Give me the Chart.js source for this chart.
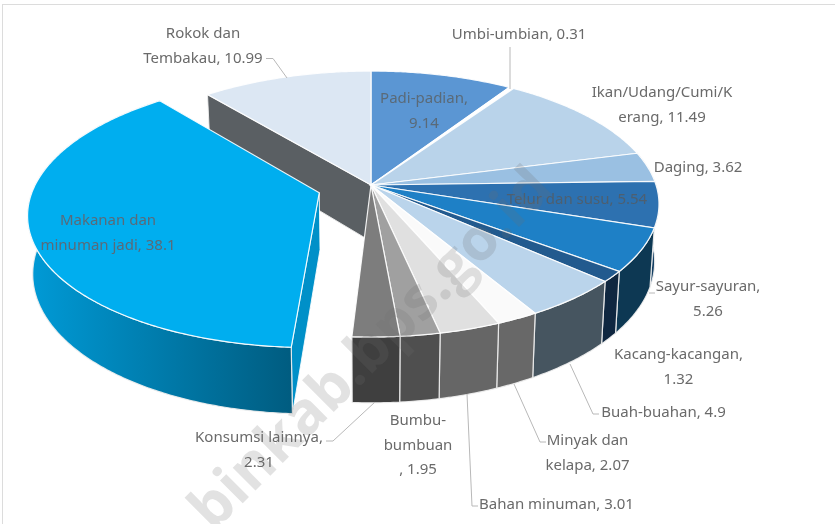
<!DOCTYPE html>
<html><head><meta charset="utf-8">
<style>html,body{margin:0;padding:0;background:#fff}canvas{display:block}</style>
<script src="https://cdn.jsdelivr.net/npm/chart.js@4"></script>
</head><body><canvas id="c" width="835" height="524"></canvas>
<script>
const categories = ["Padi-padian","Umbi-umbian","Ikan/Udang/Cumi/Kerang","Daging","Telur dan susu","Sayur-sayuran","Kacang-kacangan","Buah-buahan","Minyak dan kelapa","Bahan minuman","Bumbu-bumbuan","Konsumsi lainnya","Makanan dan minuman jadi","Rokok dan Tembakau"];
const values = [9.14,0.31,11.49,3.62,5.54,5.26,1.32,4.9,2.07,3.01,1.95,2.31,38.1,10.99];
const topColors = ["#5b96d3","#ffffff","#b9d3ea","#9ac0e2","#2d71b0","#1e80c6","#225a8e","#bad4eb","#fafafa","#e0e0e0","#a0a0a0","#7d7d7d","#00aeef","#dce7f3"];
const wallColors = ["#3a5f86","#888888","#5d7285","#4e6a85","#143f63","#0d3853","#0f2740","#465560","#686868","#666666","#4f4f4f","#3f3f3f","#0090c8","#5a5f63"];
const explode = [0,0,0,0,0,0,0,0,0,0,0,0,54,0];
const labelLines = [["Padi-padian,","9.14"],["Umbi-umbian, 0.31"],["Ikan/Udang/Cumi/K","erang, 11.49"],["Daging, 3.62"],["Telur dan susu, 5.54"],["Sayur-sayuran,","5.26"],["Kacang-kacangan,","1.32"],["Buah-buahan, 4.9"],["Minyak dan","kelapa, 2.07"],["Bahan minuman, 3.01"],["Bumbu-","bumbuan",", 1.95"],["Konsumsi lainnya,","2.31"],["Makanan dan","minuman jadi, 38.1"],["Rokok dan","Tembakau, 10.99"]];
const labelSpots = [[424,99],[519,35],[662,93],[698,168],[577,200],[708,287],[678.5,355],[663.5,413],[587.5,441],[556.5,505],[418,421],[259,438],[108,221],[203,34]];
const leaders = [[[266,58.5],[273,58.5],[287,78]],[[510,47],[510,89]],[[655,293],[649,293]],[[599,414],[593,414],[570,364]],[[546,442],[540,442],[514,384]],[[478,506],[472,506],[467,394]],[[326,441],[333,441],[375,402]]];
const watermark = "binkab.bps.go.id";

const K = 0.143, YK = 0.457, HK = 0.198, XS = 0.985;

function project(el, u, v){
  const R = el.outerRadius, w = 1 + K*v;
  return {x: el.x + R*u/w, y: el.y - R*YK*v/w, w};
}
function lower(el, p){
  return {x: el.x + (p.x-el.x)*XS, y: p.y + el.outerRadius*HK/p.w};
}
function sliceGeom(el){
  const R = el.outerRadius, a0 = el.startAngle + Math.PI/2, a1 = el.endAngle + Math.PI/2;
  const d = (el.options.offset||0)/R, mid = (a0+a1)/2;
  const ou = d*Math.sin(mid), ov = d*Math.cos(mid);
  const n = Math.max(2, Math.ceil((a1-a0)/0.01)), rim = [];
  for(let i=0;i<=n;i++){
    const a = a0+(a1-a0)*i/n;
    rim.push(project(el, ou+Math.sin(a), ov+Math.cos(a)));
  }
  return {apex: project(el, ou, ov), rim, a0, a1};
}
function poly(ctx, pts){
  ctx.beginPath();
  pts.forEach((p,i)=> i?ctx.lineTo(p.x,p.y):ctx.moveTo(p.x,p.y));
  ctx.closePath();
}
function drawWall(ctx, el, i){
  const g = sliceGeom(el), low = g.rim.map(p=>lower(el,p));
  if(!explode[i] && Math.cos(g.a0)>0.05 && Math.cos(g.a1)>0.05) return;
  if(explode[i]){
    const side = [g.apex, g.rim[0], low[0], lower(el,g.apex)];
    poly(ctx, side); ctx.fillStyle = wallColors[i]; ctx.fill();
    ctx.strokeStyle = "rgba(255,255,255,.85)"; ctx.lineWidth = 1; ctx.stroke();
    const gr = ctx.createLinearGradient(30,0,292,0);
    gr.addColorStop(0,"#009ad6"); gr.addColorStop(1,"#005c80");
    ctx.fillStyle = gr;
  } else ctx.fillStyle = wallColors[i];
  poly(ctx, g.rim.concat(low.slice().reverse())); ctx.fill();
  ctx.strokeStyle = "rgba(240,240,240,.9)"; ctx.lineWidth = 1.2; ctx.stroke();
}
function drawTop(ctx, el, i){
  const g = sliceGeom(el);
  poly(ctx, [g.apex].concat(g.rim));
  ctx.fillStyle = el.options.backgroundColor; ctx.fill();
  ctx.strokeStyle = "rgba(255,255,255,.9)"; ctx.lineWidth = 1.2; ctx.stroke();
}
const pie3d = {
  id:"pie3d",
  beforeDatasetDraw(chart){
    const ctx = chart.ctx, els = chart.getDatasetMeta(0).data;
    const last = els.length-1;
    const rok = els[last], gr = sliceGeom(rok), a = gr.apex, r0 = gr.rim[0];
    poly(ctx,[a,r0,lower(rok,r0),lower(rok,a)]);
    ctx.fillStyle = wallColors[last]; ctx.fill();
    ctx.strokeStyle = "rgba(240,240,240,.9)"; ctx.lineWidth = 1; ctx.stroke();
    els.forEach((el,i)=>{ if(!explode[i]) drawWall(ctx,el,i); });
    els.forEach((el,i)=>{ if(!explode[i]) drawTop(ctx,el,i); });
    els.forEach((el,i)=>{ if(explode[i]){ drawWall(ctx,el,i); drawTop(ctx,el,i);} });
    return false;
  },
  afterDraw(chart){
    const ctx = chart.ctx;
    ctx.save();
    ctx.strokeStyle = "#dcdcdc"; ctx.lineWidth = 1;
    ctx.strokeRect(2.5,4.5,900,900);
    ctx.strokeStyle = "#b8b8b8";
    leaders.forEach(l=>{
      ctx.beginPath();
      l.forEach((p,i)=> i?ctx.lineTo(p[0],p[1]):ctx.moveTo(p[0],p[1]));
      ctx.stroke();
    });
    ctx.font = '15px "Noto Sans"'; ctx.textAlign = "center"; ctx.textBaseline = "middle";
    labelLines.forEach((lines,i)=>{
      const s = labelSpots[i];
      ctx.fillStyle = i===4 ? "#4d5f70" : (i===12||i===0 ? "#5a6a78" : "#6a6a6a");
      lines.forEach((t,j)=> ctx.fillText(t, s[0], s[1]+j*24.3));
    });
    ctx.translate(372,350); ctx.rotate(-45*Math.PI/180);
    ctx.font = 'bold 59px "Open Sans"'; ctx.fillStyle = "rgba(110,110,110,.2)";
    ctx.fillText(watermark, 0, 0);
    ctx.restore();
  }
};
new Chart(document.getElementById("c"),{
  type:"pie",
  data:{labels:categories,datasets:[{data:values,backgroundColor:topColors,offset:explode,borderWidth:0}]},
  options:{responsive:false,animation:false,radius:285,
    layout:{padding:{left:0,right:93,top:0,bottom:154}},
    plugins:{legend:{display:false},tooltip:{enabled:false},title:{display:false}}},
  plugins:[pie3d]
});
</script></body></html>
